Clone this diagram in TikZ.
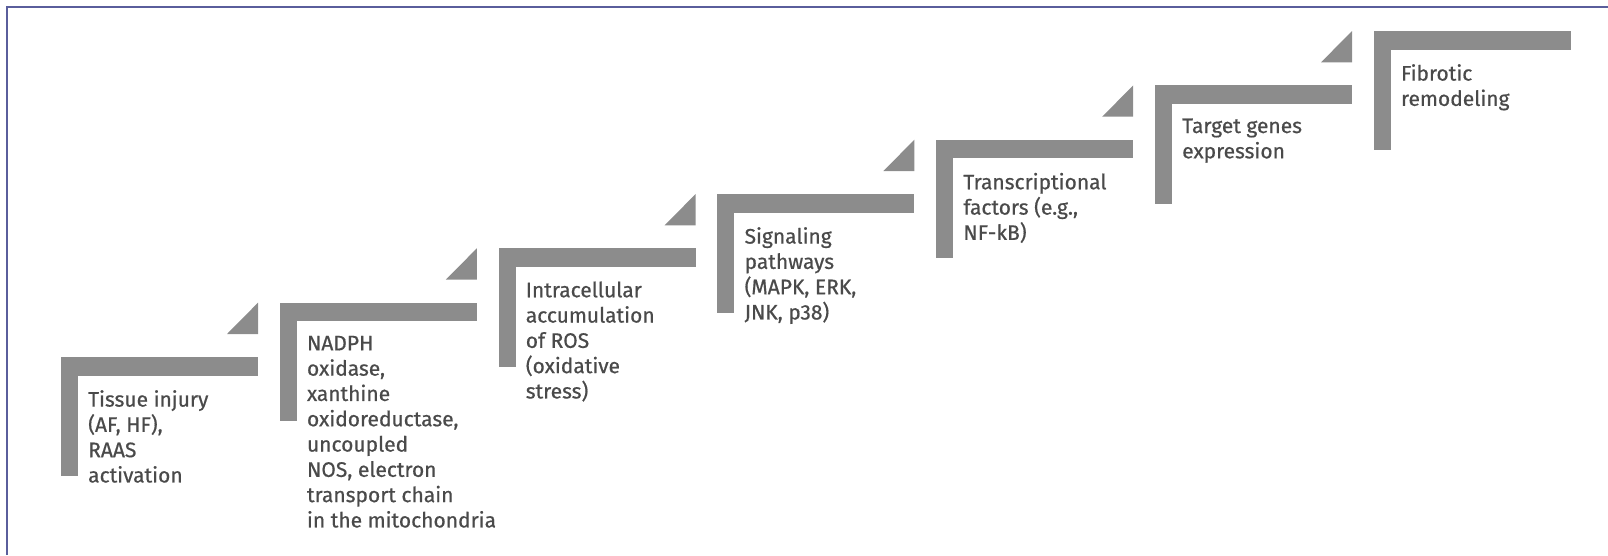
\documentclass[tikz,border=0pt]{standalone}
\usepackage{fontspec}
\setmainfont{Fira Sans}[FakeBold=0.6]
\definecolor{bargray}{HTML}{8C8C8C}
\definecolor{txtgray}{HTML}{4A4A4A}
\definecolor{frameblue}{HTML}{5A5E9C}
\begin{document}
\begin{tikzpicture}[x=1pt,y=-1pt,
  bar/.style={fill=bargray},
  steplabel/.style={anchor=north west, inner sep=0pt, align=left,
    text=txtgray, font=\fontsize{21}{25.3}\selectfont}]
\useasboundingbox (0,0) rectangle (1608,555);
% frame: top and left edges only
\draw[frameblue, line width=2pt] (6.5,555) -- (6.5,6.5) -- (1608,6.5);
% stair steps: an L-shaped bracket per step, a wedge leading up to the next one
\foreach \i in {0,...,6}{
  \pgfmathsetmacro\sx{61+218.8*\i}
  \pgfmathsetmacro\sy{357-54.33*\i}
  \fill[bar] (\sx,\sy) rectangle ++(197,18.5);
  \fill[bar] (\sx,\sy) rectangle ++(17,118.5);
  \ifnum\i<6
    \fill[bar] (\sx+166,\sy-23) -- (\sx+197,\sy-23) -- (\sx+197,\sy-54.33) -- cycle;
  \fi
}
\node[steplabel] (s1) at (88,390) {Tissue injury\\(AF, HF),\\RAAS\\activation};
\node[steplabel] (s2) at (306.8,335.67) {NADPH\\oxidase,\\xanthine\\oxidoreductase,\\uncoupled\\NOS, electron\\transport chain\\in the mitochondria};
\node[steplabel] (s3) at (525.6,281.3) {Intracellular\\accumulation\\of ROS\\(oxidative\\stress)};
\node[steplabel] (s4) at (744.4,227) {Signaling\\pathways\\(MAPK, ERK,\\JNK, p38)};
\node[steplabel] (s5) at (963.2,172.7) {Transcriptional\\factors (e.g.,\\NF-kB)};
\node[steplabel] (s6) at (1182,118.35) {Target genes\\expression};
\node[steplabel] (s7) at (1400.8,64) {Fibrotic\\remodeling};
\end{tikzpicture}
\end{document}
